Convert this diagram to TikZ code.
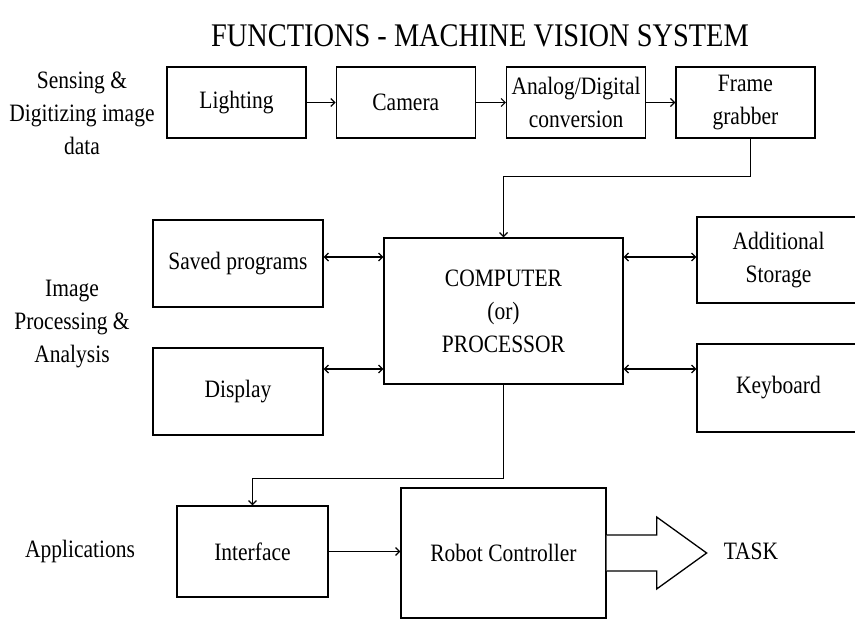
\documentclass[tikz,border=0pt]{standalone}
\usepackage{fontspec}
\setmainfont{Liberation Serif}[FakeStretch=0.86]
\usepackage{tikz}
\usetikzlibrary{arrows.meta,positioning}
\newcommand\boxfont{\fontsize{25}{33}\selectfont}
\tikzset{
  block/.style={
    rectangle, draw=black, line width=1.3pt,
    align=center, font=\boxfont, inner sep=0pt
  },
  sidelabel/.style={align=center, font=\boxfont, inner sep=0pt},
  link/.style={-{Straight Barb[length=4pt,width=8pt]},
               line width=1.2pt},
  duplex/.style={link, {Straight Barb[length=4pt,width=8pt]}-{Straight Barb[length=4pt,width=8pt]}},
  bigarrow/.style={draw=black, line width=1.3pt, fill=white}
}

\begin{document}
\begin{tikzpicture}[x=1pt,y=-1pt]
  \useasboundingbox[fill=white] (0,0) rectangle (855,621);

  \node[font=\fontsize{33}{36}\selectfont] (title) at (480,36)
       {FUNCTIONS - MACHINE VISION SYSTEM};

  % sensing row
  \node[sidelabel] (sense) at (82,113) {Sensing \&\\Digitizing image\\data};
  \node[block, minimum width=139pt, minimum height=71pt] (light) at (236.5,102.5) {Lighting};
  \node[block, minimum width=139pt, minimum height=71pt, right=29pt of light] (cam)  {Camera};
  \node[block, minimum width=139pt, minimum height=71pt, right=30pt of cam]   (adc)  {Analog/Digital\\conversion};
  \node[block, minimum width=139pt, minimum height=71pt, right=29pt of adc]   (grab) {Frame\\grabber};

  \foreach \a/\b in {light/cam, cam/adc, adc/grab}
    \draw[link] (\a) -- (\b);

  % processing block
  \node[sidelabel] (proc) at (72,324) {Image\\Processing \&\\Analysis};
  \node[block, minimum width=239pt, minimum height=146pt] (cpu) at (503.5,311)
       {COMPUTER\\(or)\\PROCESSOR};
  \node[block, minimum width=170pt, minimum height=87pt] (saved) at (238,263.5) {Saved programs};
  \node[block, minimum width=170pt, minimum height=87pt] (disp)  at (238,391.5) {Display};
  \node[block, minimum width=163pt, minimum height=86pt] (store) at (778.5,260) {Additional\\Storage};
  \node[block, minimum width=163pt, minimum height=88pt] (keyb)  at (778.5,388) {Keyboard};

  \draw[link] ([xshift=5pt]grab.south) |- ([yshift=61pt]cpu.north) -- (cpu.north);

  \coordinate (rowA) at (0,257);
  \coordinate (rowB) at (0,369);
  \foreach \n/\r in {saved/rowA, disp/rowB}
    \draw[duplex] (\n.east |- \r) -- (cpu.west |- \r);
  \foreach \n/\r in {store/rowA, keyb/rowB}
    \draw[duplex] (cpu.east |- \r) -- (\n.west |- \r);

  % applications row
  \node[sidelabel] (apps) at (80,551) {Applications};
  \node[block, minimum width=151pt, minimum height=91pt]  (iface) at (252.5,551.5) {Interface};
  \node[block, minimum width=205pt, minimum height=130pt] (robot) at (503.5,553) {Robot Controller};
  \node[sidelabel] (task) at (751,551) {TASK};

  \draw[link] (cpu.south) -- ++(0,94) -| (iface.north);
  \draw[link] (iface.east) -- (iface.east -| robot.west);

  \draw[bigarrow] ([yshift=18pt]robot.east) -- ++(50,0) -- ++(0,-18)
                  -- ++(50,36) -- ++(-50,36) -- ++(0,-18) -- ++(-50,0);
\end{tikzpicture}
\end{document}
